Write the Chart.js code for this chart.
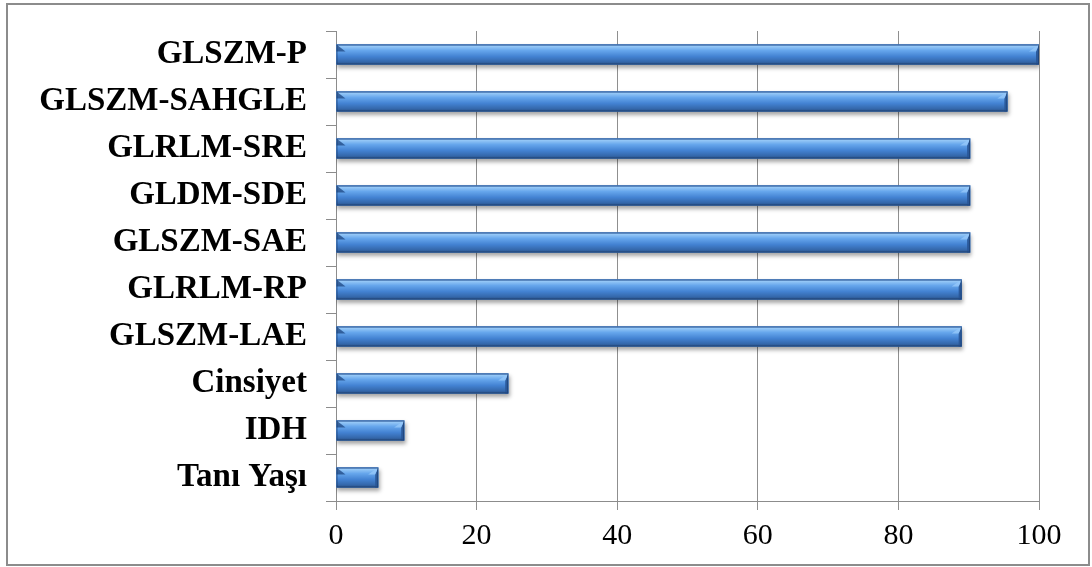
<!DOCTYPE html>
<html>
<head>
<meta charset="utf-8">
<script src="https://cdn.jsdelivr.net/npm/chart.js@4/dist/chart.umd.min.js"></script>
<style>
  body { margin: 0; background: #fff; }
  #wrap { width: 1092px; height: 567px; }
</style>
</head>
<body>
<div id="wrap"><canvas id="myChart" width="1092" height="567"></canvas></div>
<script>
// datos
let categories = ['GLSZM-P', 'GLSZM-SAHGLE', 'GLRLM-SRE', 'GLDM-SDE', 'GLSZM-SAE', 'GLRLM-RP', 'GLSZM-LAE', 'Cinsiyet', 'IDH', 'Tanı Yaşı'];
let importance = [100, 95.5, 90.2, 90.2, 90.2, 89.0, 89.0, 24.5, 9.7, 6.0];
let xTicks = [0, 20, 40, 60, 80, 100];

// marco gris alrededor
let frame = {
  id: 'frame',
  beforeDraw(chart) {
    let ctx = chart.ctx;
    ctx.save();
    ctx.fillStyle = '#fff';
    ctx.fillRect(0, 0, chart.width, chart.height);
    ctx.strokeStyle = '#8c8c8c';
    ctx.lineWidth = 2;
    ctx.strokeRect(7, 4, 1082, 561);
    ctx.restore();
  }
};

// sombra + degradado 3D de las barras
let bars3d = {
  id: 'bars3d',
  beforeDatasetsDraw(chart) {
    let ctx = chart.ctx;
    ctx.save();
    ctx.shadowColor = 'rgba(0,0,0,0.35)';
    ctx.shadowOffsetX = 1;
    ctx.shadowOffsetY = 3;
    ctx.shadowBlur = 4;
  },
  afterDatasetsDraw(chart) {
    let ctx = chart.ctx;
    ctx.restore();
    let meta = chart.getDatasetMeta(0);
    meta.data.forEach(bar => {
      let top = bar.y - bar.height / 2;
      let bottom = bar.y + bar.height / 2;
      let left = bar.base;
      let right = bar.x;
      let h = bar.height;
      let g = ctx.createLinearGradient(0, top, 0, bottom);
      g.addColorStop(0, '#5a94dc');
      g.addColorStop(0.1, '#93c6f6');
      g.addColorStop(0.3, '#66a6ec');
      g.addColorStop(0.6, '#4382d2');
      g.addColorStop(0.85, '#3569ad');
      g.addColorStop(1, '#2a5288');
      ctx.save();
      ctx.fillStyle = g;
      ctx.fillRect(left, top, right - left, h);
      // bisel izquierdo
      ctx.fillStyle = 'rgba(30,70,130,0.75)';
      ctx.beginPath();
      ctx.moveTo(left, top);
      ctx.lineTo(left + 9, top + 7);
      ctx.lineTo(left, top + 7);
      ctx.closePath();
      ctx.fill();
      // bisel derecho
      ctx.fillStyle = 'rgba(40,85,150,0.9)';
      ctx.beginPath();
      ctx.moveTo(right, top);
      ctx.lineTo(right, bottom);
      ctx.lineTo(right - 3, bottom);
      ctx.lineTo(right - 3, top + 7);
      ctx.closePath();
      ctx.fill();
      ctx.fillStyle = 'rgba(150,200,250,0.8)';
      ctx.beginPath();
      ctx.moveTo(right - 10, top + 7);
      ctx.lineTo(right - 3, top + 7);
      ctx.lineTo(right, top);
      ctx.closePath();
      ctx.fill();
      ctx.strokeStyle = 'rgba(25,55,100,0.6)';
      ctx.lineWidth = 1;
      ctx.strokeRect(left + 0.5, top + 0.5, right - left - 1, h - 1);
      ctx.restore();
    });
  }
};

let ctx = document.getElementById('myChart').getContext('2d');
let chart = new Chart(ctx, {
  type: 'bar',
  data: {
    labels: categories,
    datasets: [{
      data: importance,
      backgroundColor: '#4a86d0',
      barThickness: 20
    }]
  },
  options: {
    indexAxis: 'y',
    responsive: false,
    animation: false,
    layout: { padding: { top: 31, right: 53, left: 0, bottom: 0 } },
    plugins: {
      legend: { display: false },
      tooltip: { enabled: false }
    },
    scales: {
      x: {
        min: 0,
        max: 100,
        afterBuildTicks: axis => { axis.ticks = xTicks.map(v => ({ value: v })); },
        afterFit: axis => {
          axis.height = 66;
          axis.paddingLeft = 0;
          axis.paddingRight = 0;
        },
        border: { color: '#8c8c8c', width: 1 },
        grid: { color: '#8f8f8f', lineWidth: 1, tickLength: 9 },
        ticks: {
          color: '#000',
          padding: 8,
          font: { family: 'Liberation Serif', size: 30 }
        }
      },
      y: {
        afterFit: axis => {
          axis.width = 336;
          axis.paddingTop = 0;
          axis.paddingBottom = 0;
        },
        border: { color: '#8c8c8c', width: 1 },
        grid: { drawOnChartArea: false, color: '#8c8c8c', tickLength: 10 },
        ticks: {
          color: '#000',
          padding: 19,
          font: { family: 'Liberation Serif', size: 33, weight: 'bold' }
        }
      }
    }
  },
  plugins: [frame, bars3d]
});
</script>
</body>
</html>
